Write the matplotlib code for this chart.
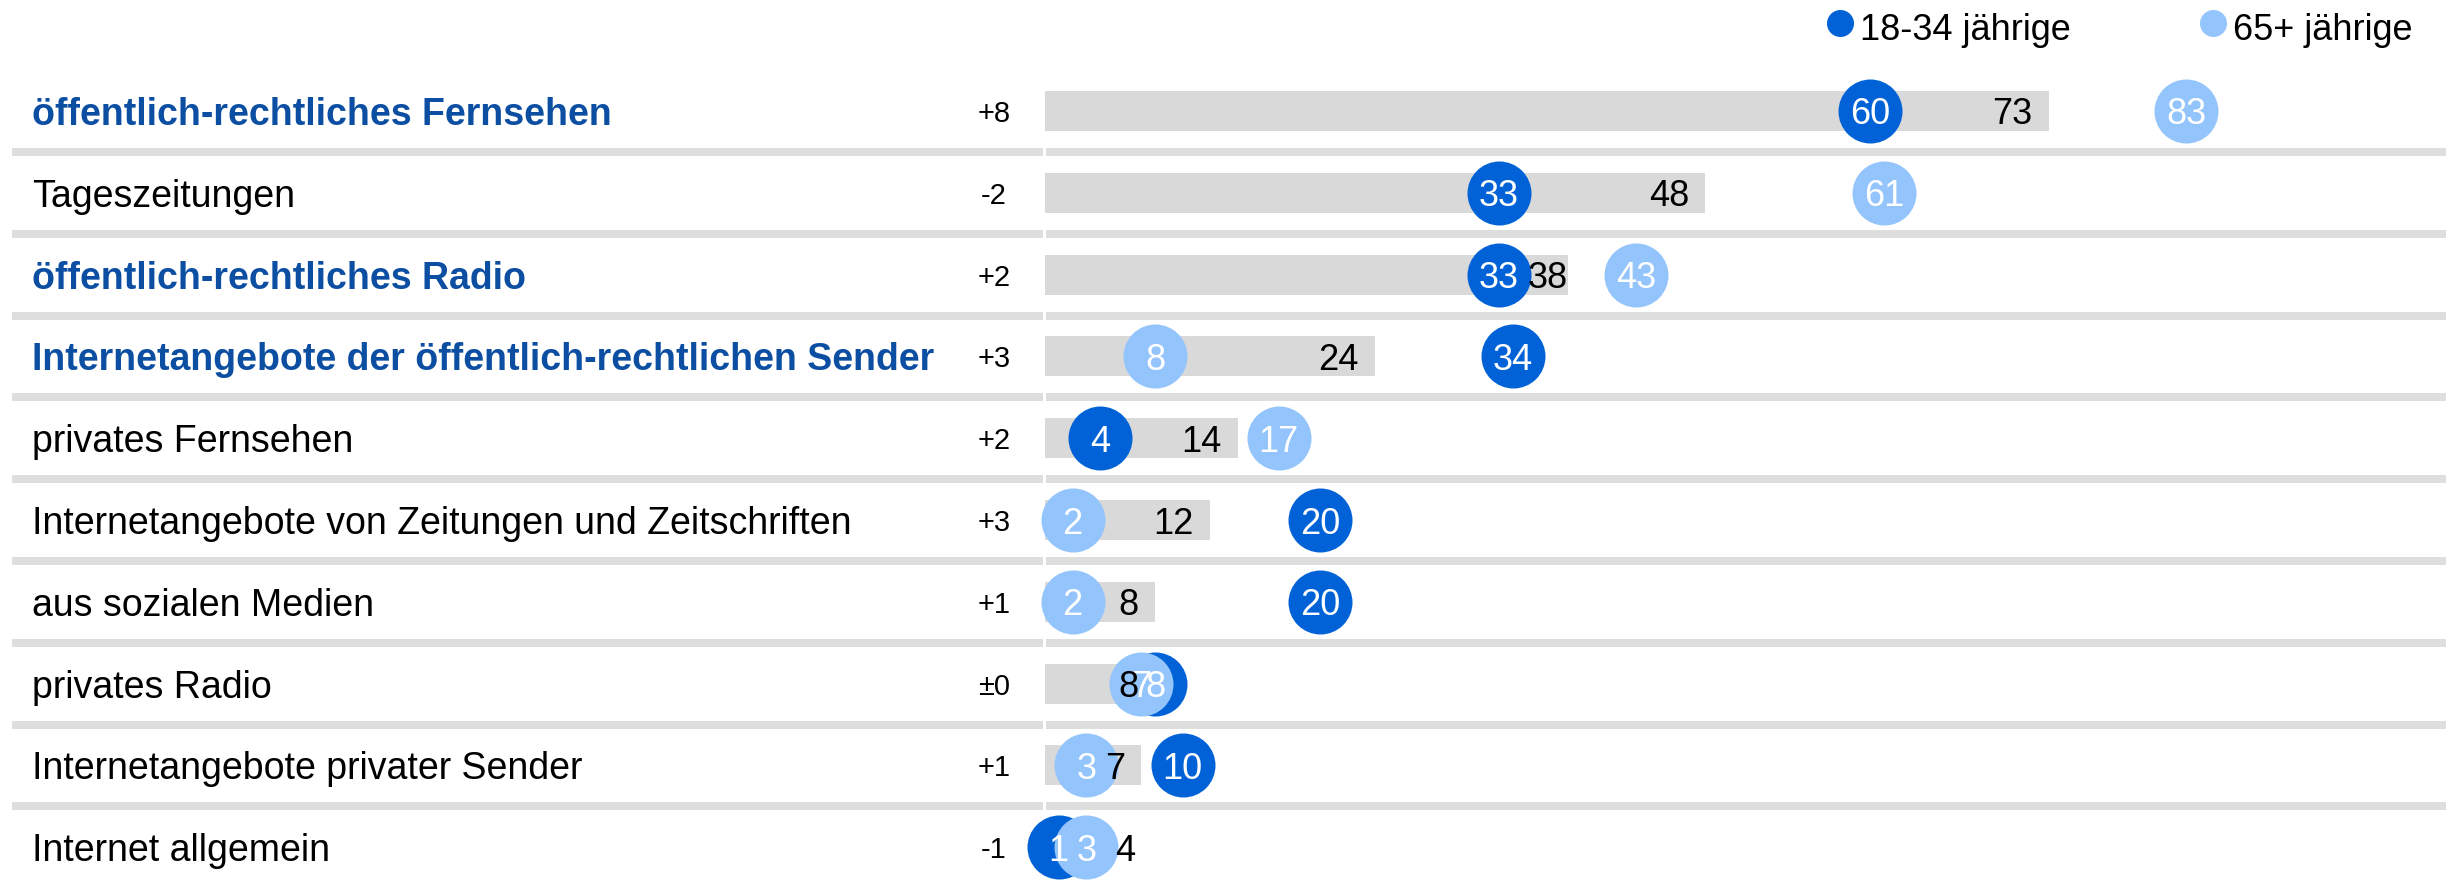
import matplotlib
matplotlib.use("Agg")
import matplotlib.pyplot as plt
import matplotlib.transforms as mtransforms

plt.rcParams['font.family'] = ['Liberation Sans', 'DejaVu Sans']

# Daten
labels = [
    "öffentlich-rechtliches Fernsehen",
    "Tageszeitungen",
    "öffentlich-rechtliches Radio",
    "Internetangebote der öffentlich-rechtlichen Sender",
    "privates Fernsehen",
    "Internetangebote von Zeitungen und Zeitschriften",
    "aus sozialen Medien",
    "privates Radio",
    "Internetangebote privater Sender",
    "Internet allgemein",
]
highlight = [True, False, True, True, False, False, False, False, False, False]
delta = ["+8", "-2", "+2", "+3", "+2", "+3", "+1", "±0", "+1", "-1"]
total = [73, 48, 38, 24, 14, 12, 8, 8, 7, 4]
young = [60, 33, 33, 34, 4, 20, 20, 8, 10, 1]
old = [83, 61, 43, 8, 17, 2, 2, 7, 3, 3]
legend_labels = ["18-34 jährige", "65+ jährige"]

DARK = "#0062D6"
LIGHT = "#94C4FC"
NAVY = "#0B4EA2"
BAR = "#D9D9D9"
SEP = "#DEDEDE"

W, H, DPI = 2446, 881, 100
x0, kx = 1045, 13.75          # Pixel des Nullpunkts, Pixel pro Prozentpunkt
y0, ky = 111, 81.8            # Mitte der ersten Zeile, Zeilenabstand

fig = plt.figure(figsize=(W / DPI, H / DPI), dpi=DPI)
ax = fig.add_axes([0, 0, 1, 1])
ax.set_xlim(-x0 / kx, (W - x0) / kx)
ax.set_ylim((H - y0) / ky, -y0 / ky)
ax.axis("off")

rows = list(range(len(labels)))
trans = mtransforms.blended_transform_factory(ax.transAxes, ax.transData)

# Trennlinien zwischen den Zeilen
for i in rows[:-1]:
    ax.plot([12 / W, 1043 / W], [i + 0.5, i + 0.5], transform=trans,
            color=SEP, lw=8 * 0.72, solid_capstyle="butt", zorder=1)
    ax.plot([1046 / W, 1.0], [i + 0.5, i + 0.5], transform=trans,
            color=SEP, lw=8 * 0.72, solid_capstyle="butt", zorder=1)

# Balken (Gesamt)
ax.barh(rows, total, height=40 / ky, left=0, color=BAR, zorder=2)

# Kreise
r = 32 / kx
s = (64 * 0.72) ** 2
ax.scatter(young, rows, s=s, color=DARK, linewidths=0, zorder=3)
ax.scatter(old, rows, s=s, color=LIGHT, linewidths=0, zorder=4)
for i in rows:
    ax.text(young[i], i, str(young[i]), color="white", fontsize=26,
            ha="center", va="center_baseline", zorder=6)
    ax.text(old[i], i, str(old[i]), color="white", fontsize=26,
            ha="center", va="center_baseline", zorder=6)

# Beschriftungen links
for i in rows:
    ax.text(32 / W, i, labels[i], transform=trans, fontsize=27,
            fontweight="bold" if highlight[i] else "normal",
            color=NAVY if highlight[i] else "black",
            ha="left", va="center_baseline")
    ax.text(994 / W, i, delta[i], transform=trans, fontsize=21,
            ha="center", va="center_baseline")

# Gesamtwerte am Balkenende, ggf. rechts neben die Kreise geschoben
renderer = fig.canvas.get_renderer()
pad = 16 / kx
for i in rows:
    t = ax.text(total[i] - pad, i, str(total[i]), fontsize=26,
                ha="right", va="center_baseline", zorder=7)
    bb = t.get_window_extent(renderer).transformed(ax.transData.inverted())
    left, right = min(bb.x0, bb.x1), max(bb.x0, bb.x1)
    if young[i] < total[i] and young[i] - r < right and young[i] + r > left:
        edge = max(v + r for v in (young[i], old[i])
                   if v - r < right and v + r > left)
        t.set_position((edge - 0.2, i))
        t.set_ha("left")

# Legende
for cx, txt, col in [(1840, legend_labels[0], DARK), (2213, legend_labels[1], LIGHT)]:
    ax.scatter([cx / W], [1 - 23 / H], s=(27 * 0.72) ** 2, color=col,
               linewidths=0, transform=ax.transAxes, clip_on=False, zorder=5)
    ax.text((cx + 20) / W, 1 - 26 / H, txt, transform=ax.transAxes,
            fontsize=26, ha="left", va="center_baseline")

fig.savefig("out.png", dpi=DPI)
